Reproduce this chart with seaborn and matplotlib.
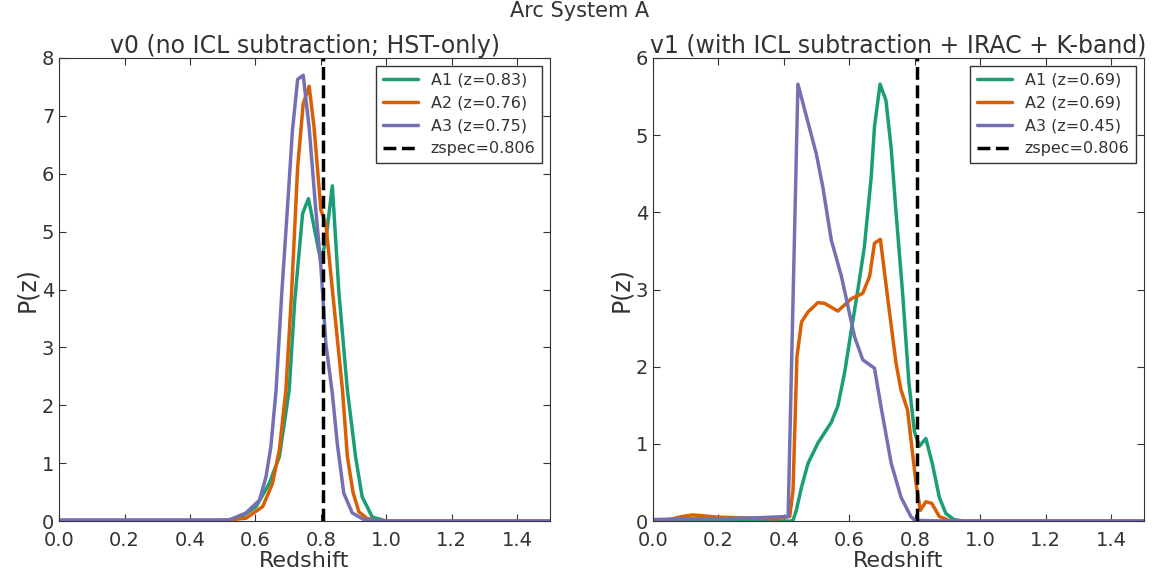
import numpy as np
import pandas as pd
import matplotlib
matplotlib.use("Agg")
import matplotlib.pyplot as plt
import seaborn as sns

# v0 (no ICL subtraction; HST-only)
z_a1_v0 = [0.0, 0.50, 0.551, 0.602, 0.642, 0.673, 0.703, 0.72, 0.744, 0.762, 0.80, 0.815, 0.835,
           0.855, 0.881, 0.906, 0.926, 0.957, 1.0, 1.5]
p_a1_v0 = [0.0, 0.01, 0.05, 0.25, 0.65, 1.11, 2.26, 3.8, 5.31, 5.57, 4.48, 4.85, 5.79,
           3.95, 2.26, 1.11, 0.42, 0.07, 0.0, 0.0]

z_a2_v0 = [0.0, 0.50, 0.571, 0.622, 0.652, 0.673, 0.693, 0.71, 0.729, 0.746, 0.764, 0.779, 0.80,
           0.815, 0.835, 0.866, 0.881, 0.898, 0.916, 0.94, 0.97, 1.5]
p_a2_v0 = [0.0, 0.01, 0.05, 0.25, 0.65, 1.23, 2.26, 3.9, 6.12, 7.21, 7.51, 6.81, 5.37,
           5.14, 4.0, 2.26, 1.11, 0.5, 0.16, 0.05, 0.0, 0.0]

z_a3_v0 = [0.0, 0.50, 0.52, 0.571, 0.612, 0.632, 0.647, 0.663, 0.68, 0.70, 0.713, 0.729, 0.746,
           0.764, 0.784, 0.80, 0.815, 0.835, 0.85, 0.87, 0.896, 0.93, 1.0, 1.5]
p_a3_v0 = [0.02, 0.02, 0.02, 0.14, 0.36, 0.76, 1.28, 2.26, 3.9, 5.6, 6.75, 7.63, 7.70,
           6.8, 5.4, 4.4, 3.07, 2.2, 1.34, 0.48, 0.14, 0.03, 0.0, 0.0]

# v1 (with ICL subtraction + IRAC + K-band)
z_a1_v1 = [0.0, 0.42, 0.428, 0.438, 0.454, 0.474, 0.504, 0.545, 0.565, 0.586, 0.606, 0.626, 0.646,
           0.667, 0.677, 0.694, 0.712, 0.728, 0.743, 0.763, 0.782, 0.799, 0.814, 0.834, 0.854,
           0.875, 0.895, 0.92, 0.95, 1.5]
p_a1_v1 = [0.0, 0.0, 0.01, 0.14, 0.44, 0.75, 1.01, 1.28, 1.49, 1.93, 2.47, 2.99, 3.55,
           4.46, 5.11, 5.66, 5.45, 4.83, 3.99, 2.95, 1.8, 1.16, 0.97, 1.07, 0.74,
           0.31, 0.10, 0.02, 0.0, 0.0]

z_a2_v1 = [0.0, 0.05, 0.09, 0.12, 0.15, 0.2, 0.3, 0.38, 0.418, 0.428, 0.44, 0.454, 0.474, 0.504,
           0.525, 0.565, 0.606, 0.641, 0.662, 0.677, 0.695, 0.717, 0.743, 0.758, 0.778, 0.804,
           0.817, 0.834, 0.852, 0.875, 0.91, 1.5]
p_a2_v1 = [0.01, 0.02, 0.06, 0.08, 0.07, 0.05, 0.04, 0.03, 0.06, 0.40, 2.13, 2.58, 2.71, 2.83,
           2.82, 2.72, 2.88, 2.95, 3.17, 3.60, 3.65, 2.9, 2.04, 1.70, 1.44, 0.49,
           0.14, 0.25, 0.23, 0.06, 0.0, 0.0]

z_a3_v1 = [0.0, 0.1, 0.2, 0.3, 0.413, 0.443, 0.469, 0.499, 0.519, 0.545, 0.576, 0.616, 0.641,
           0.677, 0.697, 0.728, 0.758, 0.788, 0.80, 0.9, 1.5]
p_a3_v1 = [0.02, 0.03, 0.03, 0.04, 0.06, 5.66, 5.24, 4.76, 4.33, 3.64, 3.17, 2.39, 2.09,
           1.98, 1.48, 0.75, 0.31, 0.06, 0.01, 0.0, 0.0]

labels_v0 = ["A1 (z=0.83)", "A2 (z=0.76)", "A3 (z=0.75)"]
labels_v1 = ["A1 (z=0.69)", "A2 (z=0.69)", "A3 (z=0.45)"]
zspec = 0.806
colors = ["#1b9e77", "#d95f02", "#7570b3"]

def to_long(zs, ps, labels):
    frames = [pd.DataFrame({"z": z, "p": p, "Series": lab}) for z, p, lab in zip(zs, ps, labels)]
    return pd.concat(frames, ignore_index=True)

df_v0 = to_long([z_a1_v0, z_a2_v0, z_a3_v0], [p_a1_v0, p_a2_v0, p_a3_v0], labels_v0)
df_v1 = to_long([z_a1_v1, z_a2_v1, z_a3_v1], [p_a1_v1, p_a2_v1, p_a3_v1], labels_v1)

sns.set_style("ticks")
plt.rcParams["font.family"] = ["DejaVu Sans"]
plt.rcParams["text.color"] = "#333333"
plt.rcParams["axes.labelcolor"] = "#333333"
plt.rcParams["xtick.color"] = "#333333"
plt.rcParams["ytick.color"] = "#333333"
plt.rcParams["axes.edgecolor"] = "#333333"
plt.rcParams["xtick.direction"] = "in"
plt.rcParams["ytick.direction"] = "in"
plt.rcParams["xtick.top"] = True
plt.rcParams["ytick.right"] = True

fig, axes = plt.subplots(1, 2, figsize=(11.6, 5.79), dpi=100)
fig.subplots_adjust(left=0.051, right=0.986, bottom=0.100, top=0.900, wspace=0.21)

panels = [
    (axes[0], df_v0, labels_v0, "v0 (no ICL subtraction; HST-only)", 8),
    (axes[1], df_v1, labels_v1, "v1 (with ICL subtraction + IRAC + K-band)", 6),
]
for ax, df, labels, title, ytop in panels:
    sns.lineplot(data=df, x="z", y="p", hue="Series", hue_order=labels,
                 palette=colors, estimator=None, lw=2.5, ax=ax)
    ax.axvline(zspec, color="black", ls="--", lw=2.5, label="zspec=0.806")
    ax.set_xlim(0, 1.5)
    ax.set_ylim(0, ytop)
    ax.set_xticks(np.arange(0, 1.41, 0.2))
    ax.set_yticks(np.arange(0, ytop + 1, 1))
    ax.tick_params(labelsize=14, length=5, width=0.8)
    ax.tick_params(axis="x", pad=7)
    ax.set_xlabel("Redshift", fontsize=16, labelpad=0.5)
    ax.set_ylabel("P(z)", fontsize=17, labelpad=2)
    ax.set_title(title, fontsize=17, pad=3)
    ax.legend(loc="upper right", fontsize=11.5, frameon=True, fancybox=False,
              edgecolor="#333333", framealpha=1, handlelength=2.2)

fig.suptitle("Arc System A", fontsize=15, y=0.998)
fig.savefig("out.png", dpi=100)
